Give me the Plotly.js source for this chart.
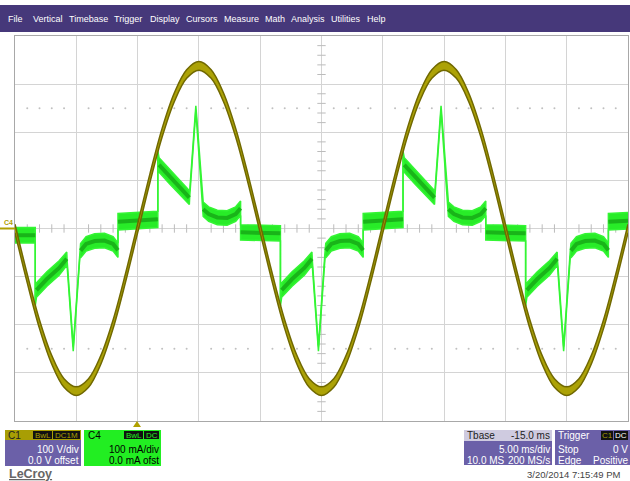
<!DOCTYPE html>
<html><head><meta charset="utf-8">
<script src="https://cdn.plot.ly/plotly-3.0.1.min.js"></script>
<style>html,body{margin:0;padding:0;background:#fff}#chart{width:630px;height:481px}</style>
</head><body><div id="chart"></div>
<script>
// ---- C1 voltage trace (divisions, 100 V/div), read every 1 ms ----
const vTime = [0,1,2,3,4,5,6,7,8,9,10,11,12,13,14,15,16,17,18,19,20,21,22,23,24,25,26,27,28,29,30,31,32,33,34,35,36,37,38,39,40,41,42,43,44,45,46,47,48,49,50];
const vVolt = [0,-1.04,-1.99,-2.73,-3.21,-3.38,-3.21,-2.73,-1.99,-1.04,0,1.04,1.99,2.73,3.21,3.38,3.21,2.73,1.99,1.04,0,-1.04,-1.99,-2.73,-3.21,-3.38,-3.21,-2.73,-1.99,-1.04,0,1.04,1.99,2.73,3.21,3.38,3.21,2.73,1.99,1.04,0,-1.04,-1.99,-2.73,-3.21,-3.38,-3.21,-2.73,-1.99,-1.04,0];
const vSpread = 0.09;

// ---- C4 current trace (divisions, 100 mA/div): time (ms), band centre, band half-width ----
const iTime = [0,1.65,1.65,1.75,2.6,3.6,4.22,4.25,4.75,5.3,5.35,5.8,6.5,7.3,8.0,8.4,8.4,11.65,11.65,11.75,12.6,13.6,14.22,14.25,14.75,15.3,15.35,15.8,16.5,17.3,18.0,18.4,18.4,21.65,
 21.65,21.75,22.6,23.6,24.22,24.25,24.75,25.3,25.35,25.8,26.5,27.3,28.0,28.4,28.4,31.65,31.65,31.75,32.6,33.6,34.22,34.25,34.75,35.3,35.35,35.8,36.5,37.3,38.0,38.4,38.4,41.65,
 41.65,41.75,42.6,43.6,44.22,44.25,44.75,45.3,45.35,45.8,46.5,47.3,48.0,48.4,48.4,50];
const iCur = [-0.14,-0.14,-1.55,-1.28,-1.05,-0.82,-0.63,-0.72,-2.5,-0.5,-0.46,-0.32,-0.26,-0.25,-0.32,-0.45,0.14,0.19,1.55,1.32,1.08,0.82,0.64,0.72,2.5,0.5,0.4,0.3,0.23,0.22,0.3,0.42,-0.08,-0.1,
 -1.55,-1.28,-1.05,-0.82,-0.63,-0.72,-2.5,-0.5,-0.46,-0.32,-0.26,-0.25,-0.32,-0.45,0.14,0.19,1.55,1.32,1.08,0.82,0.64,0.72,2.5,0.5,0.4,0.3,0.23,0.22,0.3,0.42,-0.08,-0.1,
 -1.55,-1.28,-1.05,-0.82,-0.63,-0.72,-2.5,-0.5,-0.46,-0.32,-0.26,-0.25,-0.32,-0.45,0.14,0.16];
const iHalf = [0.16,0.16,0.06,0.15,0.15,0.15,0.14,0.06,0.05,0.06,0.15,0.15,0.15,0.15,0.15,0.15,0.17,0.17,0.06,0.15,0.15,0.15,0.14,0.06,0.05,0.06,0.15,0.15,0.15,0.15,0.15,0.15,0.16,0.16,
 0.06,0.15,0.15,0.15,0.14,0.06,0.05,0.06,0.15,0.15,0.15,0.15,0.15,0.15,0.17,0.17,0.06,0.15,0.15,0.15,0.14,0.06,0.05,0.06,0.15,0.15,0.15,0.15,0.15,0.15,0.16,0.16,
 0.06,0.15,0.15,0.15,0.14,0.06,0.05,0.06,0.15,0.15,0.15,0.15,0.15,0.15,0.17,0.17];

const menuItems = ["File","Vertical","Timebase","Trigger","Display","Cursors","Measure","Math","Analysis","Utilities","Help"];
const menuX = [7,32,68,113,149,185,223,264,290,330,366];

// ---------- build traces ----------
const iUp = iCur.map((c,k)=>c+iHalf[k]);
const iLo = iCur.map((c,k)=>c-iHalf[k]);
const coreX=[], coreY=[];
for (let k=0;k<iTime.length;k++){
  if (k>0 && iTime[k]===iTime[k-1]) {coreX.push(iTime[k]); coreY.push(null);}
  coreX.push(iTime[k]); coreY.push(iHalf[k]>=0.1 ? iCur[k] : null);
}
const vUp = vVolt.map(v=>v+vSpread);
const vLo = vVolt.map(v=>v-vSpread);

// decorations: centre-line ticks and dotted rows
const tickX=[], tickY=[], tick2X=[], tick2Y=[], dotX=[], dotY=[];
for (let t=0;t<=50;t+=1){ if (t%5!==0){tickX.push(t);tickY.push(0);} }
for (let d=-4;d<=4.001;d+=0.2){ const r=Math.round(d*10)/10; if (Math.abs(r-Math.round(r))>0.01){tick2X.push(25);tick2Y.push(r);} }
for (let t=1;t<50;t+=1){ if (t%5!==0){dotX.push(t,t);dotY.push(2.5,-2.5);} }

const G_EDGE='rgb(52,245,52)', G_FILL='rgb(40,236,40)', G_CORE='rgba(22,170,22,0.85)';
const Y_EDGE='rgb(112,104,0)', Y_FILL='rgb(172,162,6)';

const traces = [
 {x:tickX,y:tickY,mode:'markers',marker:{symbol:'line-ns',size:6,line:{width:1,color:'#bcbcbc'}},hoverinfo:'skip',showlegend:false},
 {x:tick2X,y:tick2Y,mode:'markers',marker:{symbol:'line-ew',size:6,line:{width:1,color:'#bcbcbc'}},hoverinfo:'skip',showlegend:false},
 {x:dotX,y:dotY,mode:'markers',marker:{size:2,color:'#c0c0c0'},hoverinfo:'skip',showlegend:false},
 {x:iTime,y:iLo,mode:'lines',line:{color:G_EDGE,width:1.5},hoverinfo:'skip',showlegend:false},
 {x:iTime,y:iUp,mode:'lines',fill:'tonexty',fillcolor:G_FILL,line:{color:G_EDGE,width:1.5},hoverinfo:'skip',showlegend:false},
 {x:coreX,y:coreY,mode:'lines',line:{color:G_CORE,width:4},connectgaps:false,hoverinfo:'skip',showlegend:false},
 {x:vTime,y:vLo,mode:'lines',line:{color:Y_EDGE,width:1.5,shape:'spline'},hoverinfo:'skip',showlegend:false},
 {x:vTime,y:vUp,mode:'lines',fill:'tonexty',fillcolor:Y_FILL,line:{color:Y_EDGE,width:1.5,shape:'spline'},hoverinfo:'skip',showlegend:false}
];

// ---------- chrome ----------
const W=630,H=481;
const px=x=>x/W, py=y=>1-y/H;
const FONT='Liberation Sans, Arial, sans-serif';
function rect(x0,y0,x1,y1,fill,lc){return {type:'rect',xref:'paper',yref:'paper',x0:px(x0),x1:px(x1),y0:py(y1),y1:py(y0),fillcolor:fill,line:{width:lc?1:0,color:lc||fill},layer:'above'};}
function txt(x,y,s,anchor,color,size,extra){return Object.assign({xref:'paper',yref:'paper',x:px(x),y:py(y),text:s,showarrow:false,xanchor:anchor,yanchor:'middle',borderpad:0,font:{family:FONT,size:size||10,color:color}},extra||{});}

const PURPLE='#46387a', BOXP='#6b60a8', OLIVE='#a89e04', GREEN='#22ee22';
const shapes = [
 rect(0,5,630,32,PURPLE),
 // C1 box
 rect(5,430,81,440,OLIVE), rect(5,440,81,466,BOXP),
 rect(33,431,52,439,'#111'), rect(53,431,80,439,'#111'),
 // C4 box
 rect(84,430,161,466,GREEN),
 rect(124,431,143,439,'#111'), rect(144,431,159,439,'#111'),
 // Tbase box
 rect(464,430,552,441,'#cfcbe0'), rect(464,441,552,465,BOXP),
 // Trigger box
 rect(555,430,630,465,BOXP),
 rect(601,431,613,440,'#111'), rect(614,431,628,440,'#111'),
 // trigger marker
 {type:'path',xref:'paper',yref:'paper',path:`M ${px(133)} ${py(427)} L ${px(141)} ${py(427)} L ${px(137)} ${py(421)} Z`,fillcolor:'#b0a000',line:{width:0},layer:'above'},
 // C4 ground marker
 {type:'line',xref:'paper',yref:'paper',x0:px(0),x1:px(15),y0:py(228.5),y1:py(228.5),line:{color:'#b0a000',width:2},layer:'above'}
];

const ann = [];
menuItems.forEach((m,k)=>ann.push(txt(menuX[k],19,m,'left','#ffffff',9)));
ann.push(txt(3,222,'<b>C4</b>','left','#b0a000',7));
ann.push(txt(7,435,'C1','left','#222',10));
ann.push(txt(42.5,435,'BwL','center',OLIVE,8));
ann.push(txt(66.5,435,'DC1M','center',OLIVE,8));
ann.push(txt(80,449,'100 V/div','right','#ffffff',10));
ann.push(txt(80,460,'0.0 V offset','right','#ffffff',10));
ann.push(txt(87,435,'C4','left','#000',10));
ann.push(txt(133.5,435,'BwL','center',GREEN,8));
ann.push(txt(151.5,435,'DC','center',GREEN,8));
ann.push(txt(160,449,'100 mA/div','right','#000',10));
ann.push(txt(160,460,'0.0 mA ofst','right','#000',10));
ann.push(txt(466,435.5,'Tbase','left','#222',10));
ann.push(txt(551,435.5,'-15.0 ms','right','#222',10));
ann.push(txt(551,449,'5.00 ms/div','right','#ffffff',10));
ann.push(txt(466,460,'10.0 MS','left','#ffffff',10));
ann.push(txt(551,460,'200 MS/s','right','#ffffff',10));
ann.push(txt(557,435.5,'Trigger','left','#ffffff',10));
ann.push(txt(607,435.5,'C1','center',OLIVE,8));
ann.push(txt(621,435.5,'DC','center','#ffffff',8));
ann.push(txt(557,449,'Stop','left','#ffffff',10));
ann.push(txt(629,449,'0 V','right','#ffffff',10));
ann.push(txt(557,460,'Edge','left','#ffffff',10));
ann.push(txt(629,460,'Positive','right','#ffffff',10));
ann.push(txt(622,474,'3/20/2014 7:15:49 PM','right','#444',9.5));
ann.push(txt(8,474,'<b><u>LeCroy</u></b>','left','#666',12.5));

const layout = {
  width:W,height:H,margin:{l:0,r:0,t:0,b:0},paper_bgcolor:'#ffffff',plot_bgcolor:'#ffffff',
  showlegend:false,
  xaxis:{domain:[15/W,628/W],range:[0,50],dtick:5,tick0:0,showticklabels:false,ticks:'',zeroline:false,
         showgrid:true,gridcolor:'#d4d4d4',gridwidth:1,showline:true,mirror:true,linecolor:'#a8a8a8',linewidth:1,fixedrange:true},
  yaxis:{domain:[60/H,445/H],range:[-4,4],dtick:1,tick0:0,showticklabels:false,ticks:'',zeroline:false,
         showgrid:true,gridcolor:'#d4d4d4',gridwidth:1,showline:true,mirror:true,linecolor:'#a8a8a8',linewidth:1,fixedrange:true},
  shapes:shapes, annotations:ann
};
Plotly.newPlot('chart',traces,layout,{displayModeBar:false,staticPlot:true});
</script></body></html>
